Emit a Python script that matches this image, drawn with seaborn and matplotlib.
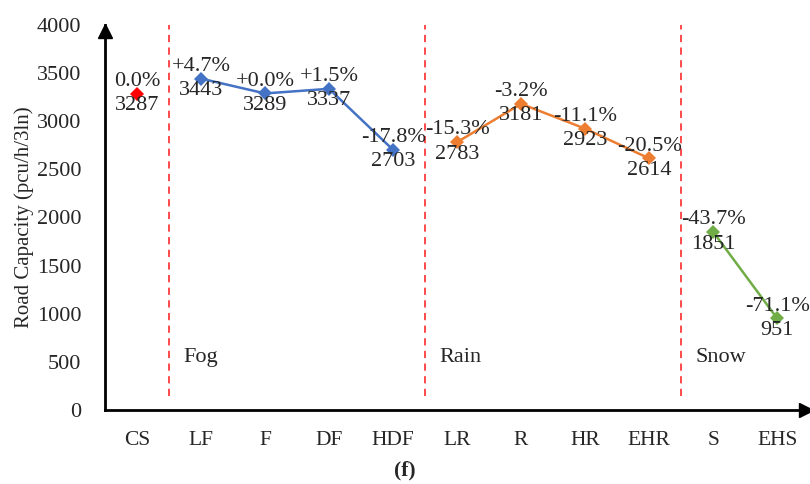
import numpy as np
import pandas as pd
import matplotlib
matplotlib.use("Agg")
import matplotlib.pyplot as plt
import seaborn as sns

categories = ["CS", "LF", "F", "DF", "HDF", "LR", "R", "HR", "EHR", "S", "EHS"]
groups = ["CS", "Fog", "Fog", "Fog", "Fog", "Rain", "Rain", "Rain", "Rain", "Snow", "Snow"]
capacity = [3287, 3443, 3289, 3337, 2703, 2783, 3181, 2923, 2614, 1851, 951]
pct_labels = ["0.0%", "+4.7%", "+0.0%", "+1.5%", "-17.8%", "-15.3%", "-3.2%",
              "-11.1%", "-20.5%", "-43.7%", "-71.1%"]
group_names = ["Fog", "Rain", "Snow"]
colors = {"CS": "#FF0000", "Fog": "#4472C4", "Rain": "#ED7D31", "Snow": "#70AD47"}

sns.set_style("white")
plt.rcParams["font.family"] = ["Liberation Serif", "DejaVu Serif"]

df = pd.DataFrame({"pos": np.arange(len(categories)), "cap": capacity, "group": groups})

fig = plt.figure(figsize=(8.1, 4.84), dpi=100)
ax = fig.add_axes([105 / 810, 74 / 484, 701 / 810, 385 / 484])

sns.lineplot(data=df, x="pos", y="cap", hue="group", style="group",
             markers={"CS": "D", "Fog": "D", "Rain": "D", "Snow": "D"},
             dashes=False, palette=colors, linewidth=1.8, markersize=7,
             markeredgewidth=0, legend=False, ax=ax, sort=False)

# separators
bounds = [0.5, 4.5, 8.5]
ax.vlines(bounds, 150, 4000, colors="#FF3B3B", linestyles=(0, (4, 3)), linewidth=1.3)

# group names
for b, name in zip(bounds, group_names):
    ax.text(b + 0.23, 550, name, ha="left", va="center", fontsize=16)

# point labels
for i, (c, p) in enumerate(zip(capacity, pct_labels)):
    ax.text(i, c, f"{p}\n{c}", ha="center", va="center",
            fontsize=16, linespacing=1.38, multialignment="center")

ax.set_xlim(-0.5, 10.45)
ax.set_ylim(0, 4000)
ax.set_yticks(np.arange(0, 4001, 500))
ax.set_xticks(np.arange(len(categories)))
ax.set_xticklabels(categories)
ax.set_xticks(np.arange(0.5, len(categories) - 0.5, 1.0), minor=True)
ax.tick_params(axis="x", which="major", length=0, pad=15, labelsize=15.5)
ax.tick_params(axis="x", which="minor", direction="in", length=6, width=1.5, color="black")
ax.tick_params(axis="y", direction="in", length=6, width=1.5, labelsize=16, pad=17, color="black")
ax.set_xlabel("")
ax.set_ylabel("Road Capacity (pcu/h/3ln)", fontsize=15, labelpad=2)

for s in ["top", "right"]:
    ax.spines[s].set_visible(False)
for s in ["left", "bottom"]:
    ax.spines[s].set_linewidth(2)
    ax.spines[s].set_color("black")

ax.plot(1, 0, ">", color="black", markersize=10, transform=ax.transAxes, clip_on=False)
ax.plot(0, 0.985, "^", color="black", markersize=10, transform=ax.transAxes, clip_on=False)

fig.text(0.5, 14 / 484, "(f)", ha="center", va="center", fontsize=15.5, fontweight="bold")

fig.savefig("out.png", dpi=100)
